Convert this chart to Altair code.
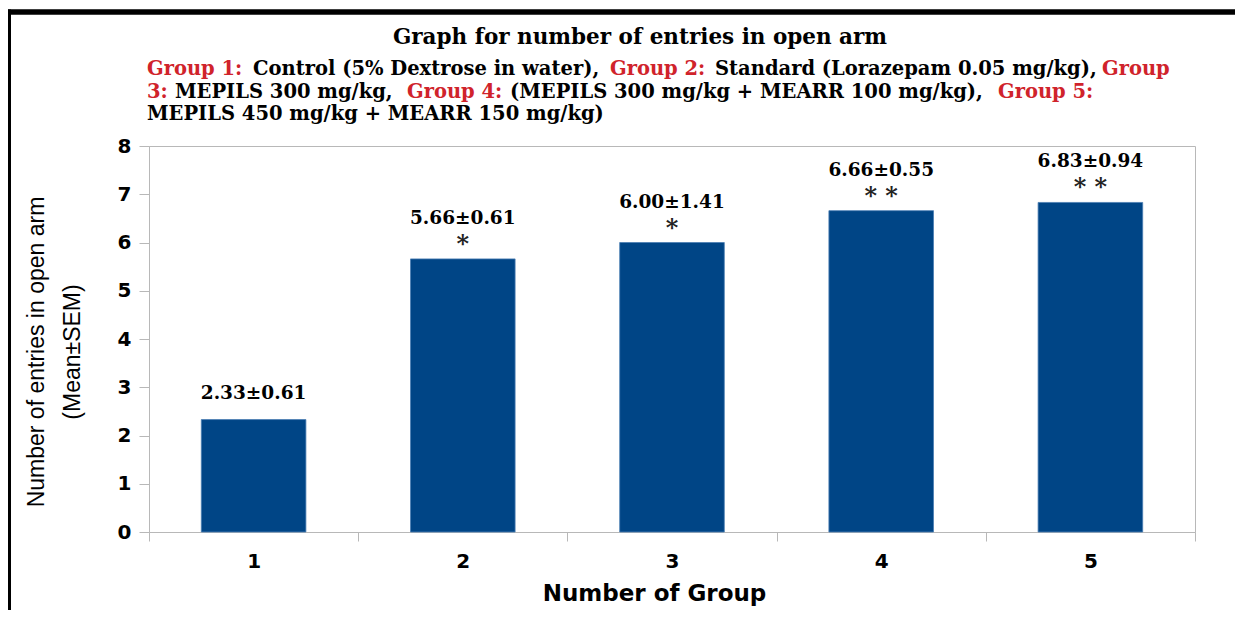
import altair as alt
import pandas as pd

# ---- data ----
groups = ["1", "2", "3", "4", "5"]
means = [2.33, 5.66, 6.00, 6.66, 6.83]
sems = [0.61, 0.61, 1.41, 0.55, 0.94]
stars = ["", "*", "*", "* *", "* *"]
y_ticks = [0, 1, 2, 3, 4, 5, 6, 7, 8]

title_text = "Graph for number of entries in open arm"
subtitle_segments = [
    # (text, is_red)
    [("Group 1:", True), ("Control (5% Dextrose in water),", False),
     ("Group 2:", True), ("Standard (Lorazepam 0.05 mg/kg),", False), ("Group", True)],
    [("3:", True), ("MEPILS 300 mg/kg,", False), ("Group 4:", True),
     ("(MEPILS 300 mg/kg + MEARR 100 mg/kg),", False), ("Group 5:", True)],
    [("MEPILS 450 mg/kg + MEARR 150 mg/kg)", False)],
]
y_title_lines = ["Number of entries in open arm", "(Mean±SEM)"]
x_title = "Number of Group"

# ---- layout (pixels, relative to plot area) ----
W, H = 1046, 386
seg_x = [[-2, 104, 461, 566, 953], [-2, 26, 258, 361, 849], [-2]]
line_y = [-77, -54, -32]
RED = "#d0232b"
BAR = "#004586"
GRID = "#b8b8b8"
SERIF = "DejaVu Serif"
SANS = "DejaVu Sans"

labels = [f"{m:.2f}±{s:.2f}" for m, s in zip(means, sems)]
df = pd.DataFrame({"Group": groups, "Mean": means, "SEM": sems,
                   "Stars": stars, "Label": labels})
df["HasStar"] = df["Stars"] != ""

x_enc = alt.X("Group:N", sort=groups,
              scale=alt.Scale(paddingInner=0, paddingOuter=0),
              axis=alt.Axis(title=x_title, labelAngle=0, tickBand="extent",
                            tickSize=9, labelPadding=10, grid=False,
                            labelFont=SANS, labelFontWeight="bold", labelFontSize=20,
                            labelColor="black",
                            titleFont=SANS, titleFontWeight="bold", titleFontSize=23,
                            titleColor="black", titleX=505, titleY=61,
                            titleBaseline="middle", titleAlign="center"))
y_enc = alt.Y("Mean:Q", scale=alt.Scale(domain=[0, 8], nice=False, zero=True),
              axis=alt.Axis(title=None, values=y_ticks, tickSize=10, labelPadding=8,
                            grid=False, labelFont=SANS, labelFontWeight="bold",
                            labelFontSize=20, labelColor="black"))

base = alt.Chart(df)
bars = base.mark_bar(color=BAR, stroke="#4a7db3", strokeWidth=0.8,
                     width=alt.RelativeBandSize(0.5)).encode(x=x_enc, y=y_enc)

vals_star = base.transform_filter("datum.HasStar").mark_text(
    font=SERIF, fontWeight="bold", fontSize=18.5, color="black",
    baseline="middle", dy=-41).encode(x=x_enc, y=y_enc, text="Label:N")
vals_nostar = base.transform_filter("!datum.HasStar").mark_text(
    font=SERIF, fontWeight="bold", fontSize=18.5, color="black",
    baseline="middle", dy=-27).encode(x=x_enc, y=y_enc, text="Label:N")
star_txt = base.transform_filter("datum.HasStar").mark_text(
    font=SERIF, fontWeight="bold", fontSize=24, color="#222222",
    baseline="middle", dy=-14).encode(x=x_enc, y=y_enc, text="Stars:N")

one = alt.Data(values=[{}])
deco = []
# black frame lines of the original figure
deco.append(alt.Chart(one).mark_rule(color="black", strokeWidth=5.5).encode(
    x=alt.value(-141), x2=alt.value(1090), y=alt.value(-134)))
deco.append(alt.Chart(one).mark_rule(color="black", strokeWidth=3).encode(
    x=alt.value(-139.5), y=alt.value(-136.5), y2=alt.value(480)))
# title
deco.append(alt.Chart(one).mark_text(
    text=title_text, font=SERIF, fontWeight="bold", fontSize=21.5, color="black",
    align="center", baseline="middle").encode(x=alt.value(491), y=alt.value(-108)))
# subtitle with coloured segments
for li, segs in enumerate(subtitle_segments):
    for si, (txt, is_red) in enumerate(segs):
        deco.append(alt.Chart(one).mark_text(
            text=txt, font=SERIF, fontWeight="bold", fontSize=19.5,
            color=RED if is_red else "black", align="left", baseline="middle"
        ).encode(x=alt.value(seg_x[li][si]), y=alt.value(line_y[li])))
# y axis title (two lines)
for txt, xv in zip(y_title_lines, [-112, -76]):
    deco.append(alt.Chart(one).mark_text(
        text=txt, font="Liberation Sans", fontSize=23, color="black", angle=270,
        align="center", baseline="middle").encode(x=alt.value(xv), y=alt.value(206)))

chart = alt.layer(bars, vals_star, vals_nostar, star_txt, *deco).properties(
    width=W, height=H,
    padding={"left": 141, "top": 138, "right": 40, "bottom": 78},
    autosize=alt.AutoSizeParams(type="none"),
    background="white",
).configure_view(stroke=GRID, strokeWidth=1).configure_axis(
    domainColor=GRID, tickColor=GRID)

chart.save("out.html", embed_options={"renderer": "svg", "actions": False})
